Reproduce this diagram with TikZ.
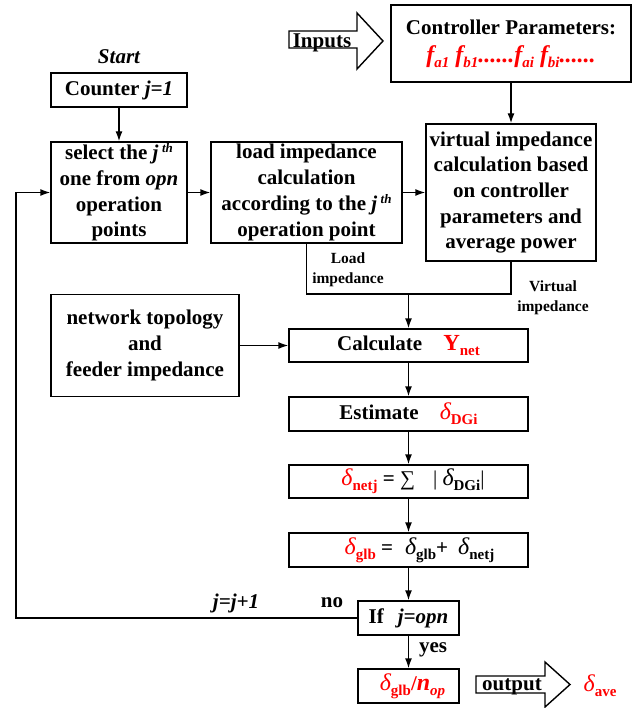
\documentclass[tikz,border=0pt]{standalone}
\usepackage{fontspec}
\setmainfont{Liberation Serif}
\usetikzlibrary{arrows.meta}
% small helpers for sub/superscripts
\newcommand{\lowsub}[1]{\raisebox{-5pt}{\fontsize{15}{15}\selectfont #1}}
\newcommand{\upth}{\,\raisebox{7pt}{\fontsize{13}{13}\selectfont\itshape th}}
\newcommand{\dlt}{{\fontsize{24}{24}\selectfont\mdseries\itshape δ}}
\tikzset{
  box/.style={draw, line width=1.4pt, inner sep=0pt, align=center},
  arr/.style={-{Latex[length=10pt,width=7pt]}, line width=1.4pt},
  wire/.style={line width=1.4pt},
  lbl/.style={font=\fontsize{15.5}{20}\selectfont\bfseries, align=center},
  bigarrow/.style={draw, line width=1.4pt, fill=white}
}
\begin{document}
\begin{tikzpicture}[x=1pt, y=-1pt, font=\fontsize{21}{25.7}\selectfont\bfseries]
  \useasboundingbox (0,0) rectangle (639,708);
  % Inputs arrow and controller parameters
  \draw[bigarrow] (289,31) -- (357,31) -- (357,13) -- (383,41) -- (357,69) -- (357,48) -- (289,48) -- cycle;
  \node (inputs) at (322,43) {Inputs};
  \node[box, minimum width=240, minimum height=77] (ctrl) at (511,43.5)
    {Controller Parameters:\\[2pt]
     \textcolor{red}{\fontsize{24}{26}\selectfont\itshape f\lowsub{a1} f\lowsub{b1}......f\lowsub{ai} f\lowsub{bi}......}};
  % Start and counter
  \node (start) at (119,57) {\itshape Start};
  \node[box, minimum width=136, minimum height=34] (counter) at (119,90) {Counter \textit{j=1}};
  % Top row
  \node[box, minimum width=136, minimum height=101] (select) at (119,192.5)
    {select the \textit{j}\upth\\one from \textit{opn}\\operation\\points};
  \node[box, minimum width=191, minimum height=101] (load) at (306.5,192.5)
    {load impedance\\calculation\\according to the \textit{j}\upth\\operation point};
  \node[box, minimum width=170, minimum height=137] (virt) at (511,192.5)
    {virtual impedance\\calculation based\\on controller\\parameters and\\average power};
  % Left input box
  \node[box, minimum width=188, minimum height=102] (network) at (145,345.5)
    {network topology\\and\\feeder impedance};
  % Main column
  \node[box, minimum width=239, minimum height=33] (calc) at (408.5,345.5)
    {Calculate\quad\textcolor{red}{{\fontsize{23}{23}\selectfont Y}\lowsub{net}}};
  \node[box, minimum width=239, minimum height=34] (est) at (408.5,414)
    {Estimate\quad\textcolor{red}{\dlt\lowsub{DGi}}};
  \node[box, minimum width=239, minimum height=33] (netj) at (408.5,481.5)
    {\hspace*{9pt}\textcolor{red}{\dlt\lowsub{netj}} = {\mdseries ∑}\hspace{18pt}{\mdseries|} \dlt\lowsub{DGi}{\mdseries|}};
  \node[box, minimum width=239, minimum height=34] (glb) at (408.5,550)
    {\hspace*{22pt}\textcolor{red}{\dlt\lowsub{glb}} =\hspace{12pt}\dlt\lowsub{glb}+\hspace{10pt}\dlt\lowsub{netj}};
  \node[box, minimum width=101, minimum height=34] (ifbox) at (408.5,618)
    {If\hspace{14pt}\textit{j=opn}};
  \node[box, minimum width=101, minimum height=34] (avg) at (408.5,686)
    {\hspace*{8pt}\textcolor{red}{\dlt\lowsub{glb}/{\fontsize{24}{24}\selectfont\itshape n}\lowsub{\itshape op}}};
  % Output arrow
  \draw[bigarrow] (476,676) -- (545,676) -- (545,662) -- (570,684.5) -- (545,707) -- (545,693) -- (476,693) -- cycle;
  \node (output) at (512,687) {output};
  \node[text=red] (ave) at (600,686) {\dlt\lowsub{ave}};
  % Connectors
  \coordinate (merge) at (408.5,294);
  \coordinate (back) at (16,618);
  \draw[arr] (ctrl) -- (virt);
  \draw[arr] (counter) -- (select);
  \draw[arr] (select) -- (load);
  \draw[arr] (load) -- (virt);
  \draw[wire] (load.south) |- (virt.south |- merge) -- (virt.south);
  \draw[arr] (merge) -- (calc);
  \draw[arr] (network) -- (calc);
  \draw[arr] (calc) -- (est);
  \draw[arr] (est) -- (netj);
  \draw[arr] (netj) -- (glb);
  \draw[arr] (glb) -- (ifbox);
  \draw[arr] (ifbox) -- (avg);
  \draw[arr] (ifbox.west) -- (back) |- (select.west);
  % Labels
  \node[lbl] (loadlbl) at (348,270) {Load\\impedance};
  \node[lbl] (virtlbl) at (553,298) {Virtual\\impedance};
  \node (no) at (332,603) {no};
  \node (incr) at (236,603) {\itshape j=j+1};
  \node (yes) at (433,650) {yes};
\end{tikzpicture}
\end{document}
